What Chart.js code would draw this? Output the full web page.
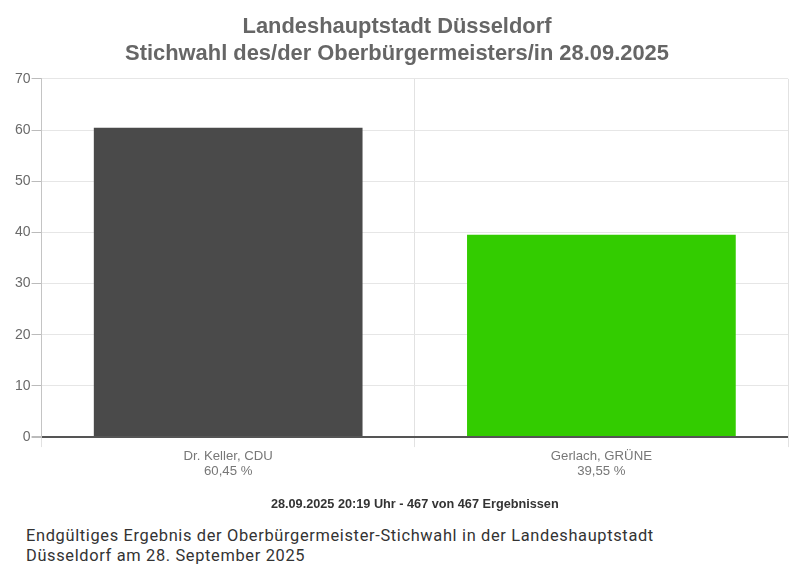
<!DOCTYPE html>
<html lang="de">
<head>
<meta charset="utf-8">
<script src="https://cdn.jsdelivr.net/npm/chart.js@4"></script>
<style>
html,body{margin:0;padding:0;background:#fff;width:800px;height:570px;overflow:hidden}
#wrap{position:absolute;left:0;top:0;width:800px;height:516px}
#cap{position:absolute;left:26px;top:526px;font:16.4px/20px Roboto,sans-serif;color:#333;white-space:nowrap;letter-spacing:.66px}
</style>
</head>
<body>
<div id="wrap"><canvas id="c"></canvas></div>
<div id="cap">Endgültiges Ergebnis der Oberbürgermeister-Stichwahl in der Landeshauptstadt<br>Düsseldorf am 28. September 2025</div>
<script>
const categories = [["Dr. Keller, CDU", "60,45 %"], ["Gerlach, GRÜNE", "39,55 %"]];
const values = [60.45, 39.55];
const barColors = ["#4a4a4a", "#33cc00"];
const titleLines = ["Landeshauptstadt Düsseldorf", "Stichwahl des/der Oberbürgermeisters/in 28.09.2025"];
const footerText = "28.09.2025 20:19 Uhr - 467 von 467 Ergebnissen";
const FONT = "'Liberation Sans', Arial, sans-serif";

new Chart(document.getElementById("c"), {
  type: "bar",
  data: { labels: categories, datasets: [{ data: values, backgroundColor: barColors, barPercentage: 0.72, categoryPercentage: 1 }] },
  options: {
    responsive: true, maintainAspectRatio: false, animation: false,
    layout: { padding: { left: 6, right: 12, top: 6, bottom: 0 } },
    plugins: {
      legend: { display: false }, tooltip: { enabled: false },
      title: { display: true, text: titleLines, color: "#666", align: "center", fullSize: true,
               font: { family: FONT, size: 21.9, weight: "bold", lineHeight: 1.23 }, padding: { top: 8, bottom: 11 } },
      subtitle: { display: true, position: "bottom", fullSize: false, text: footerText, color: "#333",
               font: { family: FONT, size: 12.7, weight: "bold" }, padding: { top: 16, bottom: 4 } }
    },
    scales: {
      x: {
        grid: { color: "#e2e2e2", tickColor: "#e2e2e2", tickLength: 10, drawTicks: true, offset: true },
        border: { display: false },
        ticks: { color: "#777", font: { family: FONT, size: 13.2 }, maxRotation: 0, padding: 1 }
      },
      y: {
        min: 0, max: 70,
        afterFit: s => { s.width += 8; },
        ticks: { stepSize: 10, color: "#6a6a6a", font: { family: FONT, size: 14 }, padding: 1 },
        grid: { color: c => c.tick.value === 0 ? "#555" : "#e6e6e6", lineWidth: c => c.tick.value === 0 ? 2 : 1,
                tickColor: "#bbb", tickLength: 10 },
        border: { display: true, color: "#c4c4c4" }
      }
    }
  }
});
</script>
</body>
</html>
